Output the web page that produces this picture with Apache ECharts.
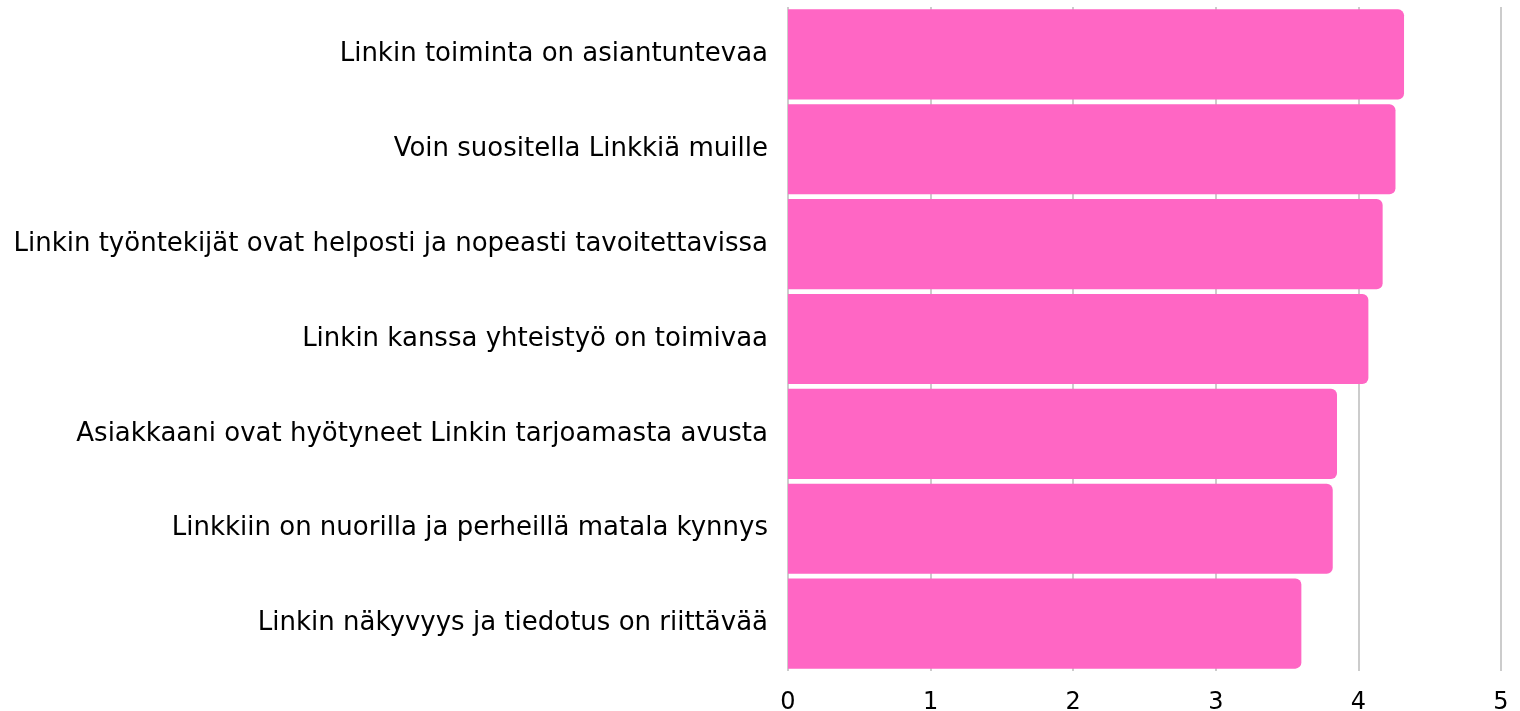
<!DOCTYPE html>
<html>
<head>
<meta charset="utf-8">
<script src="https://cdn.jsdelivr.net/npm/echarts@6/dist/echarts.min.js"></script>
<style>
html, body { margin: 0; padding: 0; background: #fff; }
#main { width: 1520px; height: 711px; }
</style>
</head>
<body>
<div id="main"></div>
<script>
var categories = [
    'Linkin toiminta on asiantuntevaa',
    'Voin suositella Linkkiä muille',
    'Linkin työntekijät ovat helposti ja nopeasti tavoitettavissa',
    'Linkin kanssa yhteistyö on toimivaa',
    'Asiakkaani ovat hyötyneet Linkin tarjoamasta avusta',
    'Linkkiin on nuorilla ja perheillä matala kynnys',
    'Linkin näkyvyys ja tiedotus on riittävää'
];
var values = [4.32, 4.26, 4.17, 4.07, 3.85, 3.82, 3.60];

var myChart = echarts.init(document.getElementById('main'));

var option = {
    animation: false,
    textStyle: { fontFamily: 'DejaVu Sans' },
    grid: { left: 788, right: 19, top: 7, bottom: 40, outerBoundsMode: 'none' },
    xAxis: {
        type: 'value',
        min: 0,
        max: 5,
        interval: 1,
        axisLine: { show: false },
        axisTick: { show: false },
        axisLabel: { color: '#000', fontSize: 24, margin: 20 },
        splitLine: { lineStyle: { color: '#cccccc', width: 2 } }
    },
    yAxis: {
        type: 'category',
        inverse: true,
        data: categories,
        axisLine: { show: false },
        axisTick: { show: false },
        axisLabel: { color: '#000', fontSize: 26, margin: 20 }
    },
    series: [
        {
            type: 'bar',
            data: values,
            barCategoryGap: '5%',
            itemStyle: { color: '#ff66c4', borderRadius: [0, 6, 6, 0] }
        }
    ]
};

myChart.setOption(option);
</script>
</body>
</html>
